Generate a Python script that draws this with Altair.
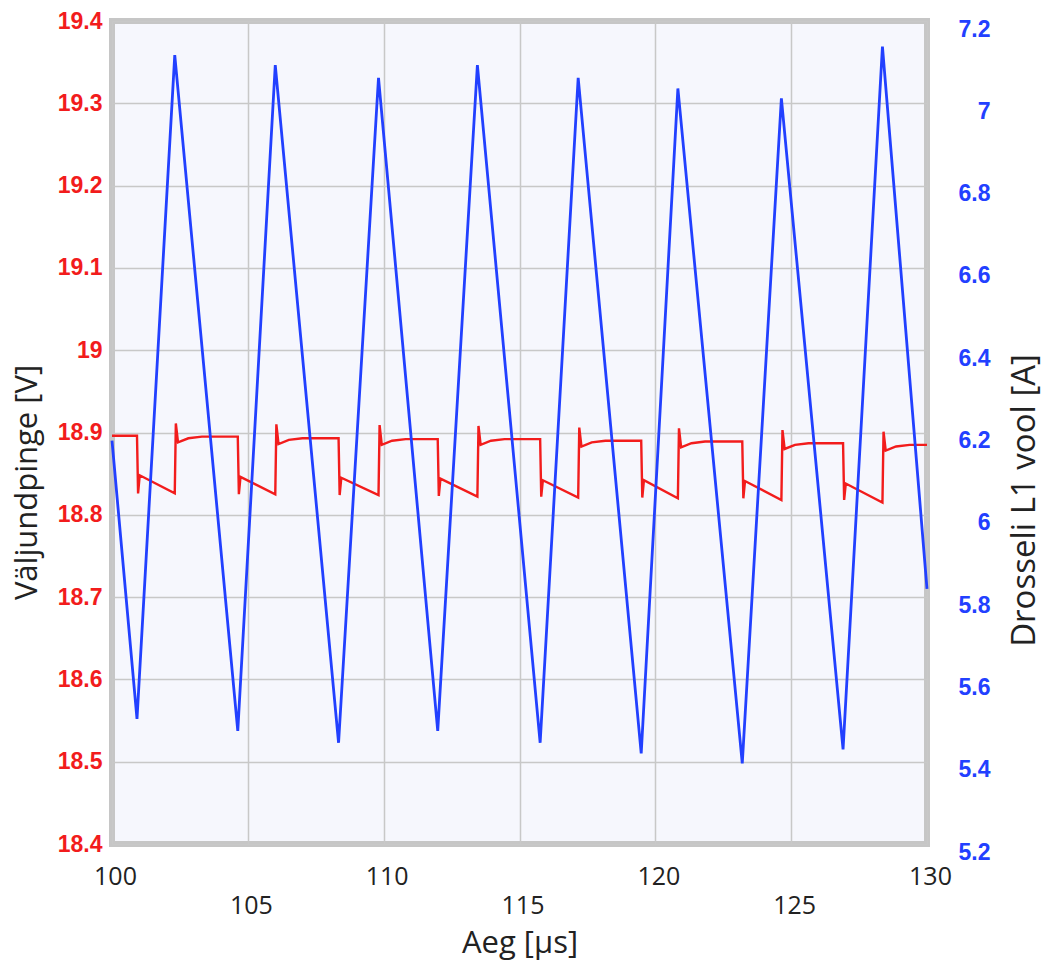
import altair as alt
import pandas as pd

# ---- data ----
# inductor current (blue, right axis): vertices of the triangular ripple
blue_t = [100.00, 100.92, 102.31, 104.63, 106.01, 108.34, 109.81, 111.99, 113.45,
          115.76, 117.16, 119.48, 120.83, 123.20, 124.64, 126.91, 128.36, 130.00]
blue_i = [6.180, 5.504, 7.117, 5.475, 7.093, 5.446, 7.062, 5.475, 7.093,
          5.446, 7.062, 5.420, 7.036, 5.396, 7.012, 5.430, 7.138, 5.820]

# output voltage (red, left axis)
red_t = [100.00,
         100.92, 100.96, 101.02, 102.31, 102.35, 102.43, 102.81, 103.31,
         104.63, 104.67, 104.73, 106.01, 106.05, 106.13, 106.51, 107.01,
         108.34, 108.38, 108.44, 109.81, 109.85, 109.93, 110.31, 110.81,
         111.99, 112.03, 112.09, 113.45, 113.49, 113.57, 113.95, 114.45,
         115.76, 115.80, 115.86, 117.16, 117.20, 117.28, 117.66, 118.16,
         119.48, 119.52, 119.58, 120.83, 120.87, 120.95, 121.33, 121.83,
         123.20, 123.24, 123.30, 124.64, 124.68, 124.76, 125.14, 125.64,
         126.91, 126.95, 127.01, 128.36, 128.40, 128.48, 128.86, 129.36,
         130.00]
red_v = [18.896,
         18.896, 18.826, 18.848, 18.826, 18.911, 18.888, 18.893, 18.895,
         18.895, 18.825, 18.846, 18.825, 18.910, 18.886, 18.891, 18.893,
         18.893, 18.824, 18.845, 18.824, 18.909, 18.885, 18.890, 18.892,
         18.892, 18.823, 18.844, 18.822, 18.908, 18.885, 18.890, 18.892,
         18.892, 18.822, 18.842, 18.821, 18.906, 18.883, 18.888, 18.890,
         18.890, 18.821, 18.842, 18.820, 18.905, 18.882, 18.887, 18.889,
         18.889, 18.820, 18.841, 18.818, 18.903, 18.880, 18.885, 18.887,
         18.887, 18.818, 18.838, 18.815, 18.901, 18.878, 18.883, 18.885,
         18.885]

x_major_ticks = [100, 110, 120, 130]
x_minor_ticks = [105, 115, 125]
left_ticks = [18.4, 18.5, 18.6, 18.7, 18.8, 18.9, 19.0, 19.1, 19.2, 19.3, 19.4]
right_ticks = [5.2, 5.4, 5.6, 5.8, 6.0, 6.2, 6.4, 6.6, 6.8, 7.0, 7.2]

blue_df = pd.DataFrame({"t": blue_t, "I": blue_i})
red_df = pd.DataFrame({"t": red_t, "V": red_v})

TFONT = "Open Sans"
REG = "Liberation Sans"
RED = "#f21c1c"
BLUE = "#2240ff"
TXT = "#222222"

x_scale = alt.Scale(domain=[100, 130], nice=False, zero=False)

x_axis_major = alt.Axis(orient="bottom", values=x_major_ticks, title=None, grid=True, ticks=False,
                        domain=False, labelFlush=False, labelOverlap=False,
                        labelFont=TFONT, labelFontSize=25, labelColor=TXT,
                        labelPadding=20, labelOffset=3)
x_axis_minor = alt.Axis(orient="bottom", values=x_minor_ticks, title="Aeg [μs]", grid=True,
                        ticks=False, domain=False, labelFlush=False, labelOverlap=False,
                        labelFont=TFONT, labelFontSize=25, labelColor=TXT,
                        labelPadding=49, labelOffset=3,
                        titleFont=TFONT, titleFontSize=31, titleFontWeight="normal",
                        titleColor=TXT, titlePadding=10)

left_axis = alt.Axis(orient="left", values=left_ticks, format="~g", grid=True, ticks=False,
                     domain=False, labelFlush=False, labelOverlap=False,
                     labelFont=REG, labelFontSize=23, labelFontWeight="bold",
                     labelColor=RED, labelPadding=10,
                     title="Väljundpinge [V]", titleFont=TFONT, titleFontSize=31,
                     titleFontWeight="normal", titleColor=TXT, titlePadding=14, titleY=461)
right_axis = alt.Axis(orient="right", values=right_ticks, format="~g", grid=False, ticks=False,
                      domain=False, labelFlush=False, labelOverlap=False,
                      labelFont=REG, labelFontSize=23, labelFontWeight="bold",
                      labelColor=BLUE, labelAlign="right", labelPadding=63, labelOffset=8,
                      title="Drosseli L1 vool [A]", titleFont=TFONT, titleFontSize=33,
                      titleFontWeight="normal", titleColor=TXT, titleAngle=270,
                      titleBaseline="top", titlePadding=18, titleY=479)

red = alt.Chart(red_df).mark_line(color=RED, strokeWidth=2.4, clip=False).encode(
    x=alt.X("t:Q", scale=x_scale, axis=x_axis_major),
    y=alt.Y("V:Q", scale=alt.Scale(domain=[18.4, 19.4], nice=False, zero=False), axis=left_axis),
)
blue = alt.Chart(blue_df).mark_line(color=BLUE, strokeWidth=2.8, clip=False).encode(
    x=alt.X("t:Q", scale=x_scale, axis=x_axis_minor),
    y=alt.Y("I:Q", scale=alt.Scale(domain=[5.2, 7.2], nice=False, zero=False), axis=right_axis),
)

chart = (
    alt.layer(red, blue)
    .resolve_scale(y="independent")
    .resolve_axis(x="independent", y="independent")
    .properties(width=815, height=823,
                autosize=alt.AutoSizeParams(type="none"),
                padding={"left": 112, "top": 21, "right": 116, "bottom": 121},
                background="white")
    .configure_view(fill="#f6f7fd", stroke="#c6c6c6", strokeWidth=6)
    .configure_axis(gridColor="#c8c8c8", gridWidth=1.5)
)

chart.save("out.html", embed_options={"renderer": "svg", "actions": False})
